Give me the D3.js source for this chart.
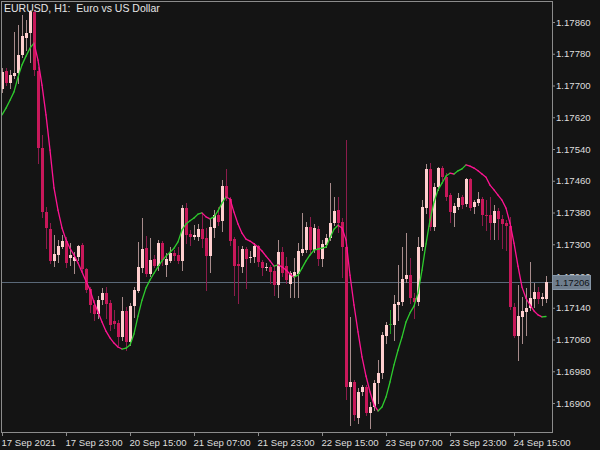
<!DOCTYPE html>
<html><head><meta charset="utf-8">
<script src="https://cdn.jsdelivr.net/npm/d3@7"></script>
<style>html,body{margin:0;padding:0;background:#141414;}svg{display:block}</style>
</head><body><svg id="c" width="600" height="450"></svg>
<script>
const chartTitle = "EURUSD, H1:  Euro vs US Dollar";
const openP = [1.17691,1.17737,1.17706,1.17724,1.17731,1.17777,1.17820,1.17832,1.17885,1.17737,
1.17542,1.17381,1.17338,1.17258,1.17273,1.17293,1.17308,1.17265,1.17258,1.17268,
1.17298,1.17238,1.17187,1.17147,1.17124,1.17159,1.17177,1.17152,1.17107,1.17101,
1.17066,1.17132,1.17054,1.17144,1.17182,1.17240,1.17290,1.17225,1.17263,1.17245,
1.17303,1.17248,1.17258,1.17278,1.17273,1.17258,1.17391,1.17326,1.17318,1.17318,
1.17338,1.17316,1.17270,1.17341,1.17374,1.17359,1.17447,1.17414,1.17313,1.17250,
1.17243,1.17288,1.17265,1.17268,1.17296,1.17255,1.17240,1.17243,1.17233,1.17197,
1.17280,1.17245,1.17200,1.17217,1.17225,1.17278,1.17285,1.17343,1.17285,1.17338,
1.17263,1.17298,1.17316,1.17353,1.17386,1.17356,1.17293,1.16940,1.16953,1.16862,
1.16928,1.16940,1.16875,1.16890,1.16950,1.16975,1.17069,1.17099,1.17096,1.17147,
1.17154,1.17212,1.17222,1.17164,1.17154,1.17293,1.17391,1.17490,1.17343,1.17444,
1.17492,1.17469,1.17424,1.17379,1.17394,1.17419,1.17401,1.17464,1.17394,1.17404,
1.17414,1.17374,1.17374,1.17353,1.17384,1.17364,1.17353,1.17346,1.17142,1.17069,
1.17117,1.17129,1.17139,1.17162,1.17180,1.17162,1.17162];
const highP = [1.17744,1.17744,1.17739,1.17835,1.17852,1.17878,1.17865,1.17890,1.17890,1.17747,
1.17575,1.17394,1.17353,1.17323,1.17311,1.17323,1.17318,1.17303,1.17280,1.17298,
1.17303,1.17240,1.17192,1.17159,1.17170,1.17190,1.17192,1.17159,1.17134,1.17109,
1.17167,1.17142,1.17152,1.17192,1.17306,1.17366,1.17321,1.17316,1.17273,1.17311,
1.17308,1.17278,1.17293,1.17285,1.17293,1.17399,1.17404,1.17336,1.17348,1.17351,
1.17379,1.17341,1.17366,1.17386,1.17394,1.17462,1.17490,1.17419,1.17318,1.17296,
1.17296,1.17293,1.17283,1.17303,1.17298,1.17260,1.17253,1.17248,1.17245,1.17311,
1.17293,1.17268,1.17233,1.17265,1.17303,1.17379,1.17356,1.17369,1.17351,1.17346,
1.17311,1.17326,1.17454,1.17419,1.17419,1.17366,1.17563,1.17117,1.16958,1.16938,
1.16945,1.16945,1.16902,1.16958,1.17008,1.17079,1.17104,1.17134,1.17172,1.17248,
1.17293,1.17328,1.17265,1.17177,1.17318,1.17411,1.17502,1.17505,1.17454,1.17495,
1.17497,1.17479,1.17429,1.17404,1.17429,1.17424,1.17467,1.17467,1.17411,1.17432,
1.17419,1.17411,1.17419,1.17399,1.17391,1.17374,1.17361,1.17369,1.17152,1.17197,
1.17167,1.17190,1.17255,1.17202,1.17192,1.17177,1.17220];
const lowP = [1.17684,1.17701,1.17694,1.17719,1.17706,1.17772,1.17789,1.17759,1.17726,1.17505,
1.17369,1.17290,1.17253,1.17245,1.17255,1.17290,1.17243,1.17248,1.17227,1.17260,
1.17233,1.17180,1.17129,1.17109,1.17114,1.17149,1.17114,1.17084,1.17089,1.17046,
1.17059,1.17033,1.17046,1.17117,1.17180,1.17230,1.17220,1.17220,1.17243,1.17235,
1.17248,1.17220,1.17255,1.17260,1.17253,1.17235,1.17303,1.17298,1.17313,1.17311,
1.17293,1.17185,1.17230,1.17318,1.17348,1.17333,1.17411,1.17298,1.17172,1.17152,
1.17230,1.17190,1.17255,1.17255,1.17245,1.17222,1.17235,1.17202,1.17172,1.17167,
1.17220,1.17202,1.17167,1.17167,1.17167,1.17273,1.17280,1.17278,1.17280,1.17248,
1.17245,1.17293,1.17311,1.17348,1.17331,1.17217,1.16910,1.16844,1.16857,1.16849,
1.16920,1.16870,1.16837,1.16882,1.16900,1.16963,1.17051,1.17076,1.17059,1.17109,
1.17147,1.17205,1.17152,1.17114,1.17147,1.17285,1.17379,1.17336,1.17336,1.17437,
1.17462,1.17411,1.17356,1.17346,1.17389,1.17391,1.17396,1.17386,1.17379,1.17399,
1.17348,1.17336,1.17313,1.17313,1.17313,1.17290,1.17285,1.17137,1.17066,1.17008,
1.17051,1.17071,1.17134,1.17142,1.17152,1.17147,1.17154];
const closeP = [1.17734,1.17706,1.17726,1.17731,1.17777,1.17825,1.17832,1.17885,1.17739,1.17542,
1.17381,1.17341,1.17258,1.17275,1.17296,1.17308,1.17253,1.17273,1.17268,1.17296,
1.17238,1.17185,1.17147,1.17124,1.17159,1.17177,1.17149,1.17096,1.17099,1.17066,
1.17132,1.17054,1.17144,1.17185,1.17243,1.17288,1.17225,1.17260,1.17245,1.17303,
1.17260,1.17263,1.17278,1.17270,1.17258,1.17391,1.17323,1.17318,1.17323,1.17338,
1.17313,1.17270,1.17343,1.17374,1.17356,1.17447,1.17419,1.17308,1.17245,1.17245,
1.17288,1.17263,1.17268,1.17296,1.17255,1.17240,1.17243,1.17230,1.17197,1.17280,
1.17227,1.17210,1.17227,1.17230,1.17283,1.17288,1.17343,1.17285,1.17341,1.17263,
1.17301,1.17316,1.17353,1.17384,1.17353,1.17293,1.16940,1.16953,1.16870,1.16928,
1.16940,1.16875,1.16890,1.16950,1.16975,1.17071,1.17096,1.17099,1.17149,1.17154,
1.17212,1.17222,1.17164,1.17154,1.17293,1.17394,1.17490,1.17343,1.17444,1.17492,
1.17469,1.17419,1.17381,1.17396,1.17416,1.17399,1.17464,1.17391,1.17406,1.17414,
1.17374,1.17371,1.17353,1.17384,1.17364,1.17351,1.17346,1.17142,1.17069,1.17119,
1.17132,1.17139,1.17164,1.17180,1.17162,1.17167,1.17206];
const maLine = [1.17626,1.17643,1.17663,1.17684,1.17721,1.17752,1.17774,1.17794,1.17807,1.17764,
1.17701,1.17626,1.17537,1.17442,1.17386,1.17341,1.17311,1.17290,1.17273,1.17253,
1.17230,1.17207,1.17185,1.17154,1.17129,1.17104,1.17081,1.17064,1.17051,1.17041,
1.17036,1.17038,1.17046,1.17074,1.17119,1.17159,1.17190,1.17210,1.17227,1.17243,
1.17258,1.17270,1.17280,1.17290,1.17306,1.17336,1.17351,1.17359,1.17366,1.17376,
1.17379,1.17369,1.17364,1.17369,1.17384,1.17404,1.17419,1.17414,1.17381,1.17351,
1.17328,1.17313,1.17308,1.17301,1.17293,1.17283,1.17270,1.17258,1.17245,1.17248,
1.17243,1.17235,1.17225,1.17217,1.17222,1.17240,1.17258,1.17273,1.17285,1.17288,
1.17290,1.17293,1.17316,1.17338,1.17348,1.17341,1.17311,1.17222,1.17147,1.17079,
1.17016,1.16968,1.16928,1.16895,1.16880,1.16890,1.16915,1.16953,1.16996,1.17033,
1.17066,1.17104,1.17127,1.17144,1.17177,1.17235,1.17301,1.17361,1.17406,1.17437,
1.17454,1.17472,1.17479,1.17477,1.17485,1.17490,1.17500,1.17497,1.17492,1.17485,
1.17477,1.17469,1.17449,1.17437,1.17424,1.17411,1.17391,1.17353,1.17303,1.17245,
1.17192,1.17164,1.17147,1.17132,1.17122,1.17117,1.17118];
const priceTicks = [1.16900,1.16980,1.17060,1.17140,1.17220,1.17300,1.17380,1.17460,1.17540,1.17620,1.17700,1.17780,1.17860];
const timeTickBars = [0,16,32,48,64,80,96,112,128];
const timeTickLabels = ["17 Sep 2021","17 Sep 23:00","20 Sep 15:00","21 Sep 07:00","21 Sep 23:00","22 Sep 15:00","23 Sep 07:00","23 Sep 23:00","24 Sep 15:00"];
const lastPrice = 1.17206;

const FONT = "'Liberation Sans', Arial, sans-serif";
const svg = d3.select("#c");
svg.append("rect").attr("width",600).attr("height",450).attr("fill","#141414");

const n = closeP.length;
const x = d3.scaleLinear().domain([0, n-1]).range([2, 2 + 4*(n-1)]);
const y = d3.scaleLinear().domain([1.16900, 1.17860]).range([403, 22]);

const plot = svg.append("g");
const yp = Math.round(y(lastPrice)) + 0.5;
plot.append("line").attr("x1",2).attr("x2",552).attr("y1",yp).attr("y2",yp)
  .attr("stroke","#5a6878").attr("stroke-width",1);

const bars = d3.range(n).map(i => ({i, o:openP[i], h:highP[i], l:lowP[i], c:closeP[i]}));
const col = d => d.c > d.o ? "bull" : (d.c < d.o ? "bear" : "doji");
const wickColor = {bull:"#a88c8c", bear:"#8c1c4c", doji:"#1f9a1f"};
const bodyColor = {bull:"#ffcfcf", bear:"#c8185a", doji:"#1f9a1f"};

plot.selectAll("line.wick").data(bars).join("line").attr("class","wick")
  .attr("x1", d => Math.round(x(d.i)) + 0.5).attr("x2", d => Math.round(x(d.i)) + 0.5)
  .attr("y1", d => Math.round(y(d.h))).attr("y2", d => Math.round(y(d.l)) + 1)
  .attr("stroke", d => wickColor[col(d)]).attr("stroke-width",1)
  .attr("shape-rendering","crispEdges");

plot.selectAll("rect.body").data(bars).join("rect").attr("class","body")
  .attr("x", d => Math.round(x(d.i)) - 1).attr("width", 3)
  .attr("y", d => Math.round(y(Math.max(d.o,d.c))))
  .attr("height", d => Math.max(1, Math.round(y(Math.min(d.o,d.c))) - Math.round(y(Math.max(d.o,d.c)))))
  .attr("fill", d => bodyColor[col(d)])
  .attr("shape-rendering","crispEdges");

const segs = d3.pairs(d3.range(n));
plot.selectAll("line.ma").data(segs).join("line").attr("class","ma")
  .attr("x1", d => x(d[0])).attr("y1", d => y(maLine[d[0]]))
  .attr("x2", d => x(d[1])).attr("y2", d => y(maLine[d[1]]))
  .attr("stroke", d => maLine[d[1]] >= maLine[d[0]] ? "#2ecc2e" : "#ff1493")
  .attr("stroke-width",1.3).attr("stroke-linecap","round");

svg.append("rect").attr("x",1.5).attr("y",1.5).attr("width",551).attr("height",431)
  .attr("fill","none").attr("stroke","#8c8c8c").attr("shape-rendering","crispEdges");

const yAxis = svg.append("g").attr("transform","translate(552,0)")
  .call(d3.axisRight(y).tickValues(priceTicks).tickFormat(d3.format(".5f")).tickSize(3).tickPadding(1));
yAxis.select(".domain").remove();
yAxis.selectAll("line").attr("stroke","#8c8c8c");
yAxis.selectAll("text").attr("fill","#dedede").attr("font-size","9.6px").attr("font-family",FONT);

const xAxis = svg.append("g").attr("transform","translate(0,432)")
  .call(d3.axisBottom(x).tickValues(timeTickBars).tickFormat((d,k) => timeTickLabels[k]).tickSize(4).tickPadding(3));
xAxis.select(".domain").remove();
xAxis.selectAll("line").attr("stroke","#8c8c8c");
xAxis.selectAll("text").attr("fill","#dedede").attr("font-size","9.6px").attr("font-family",FONT)
  .attr("text-anchor","start").attr("dx","-1");

svg.append("rect").attr("x",552.5).attr("y",yp-7).attr("width",38).attr("height",14)
  .attr("fill","#6f7e8e").attr("stroke","#8696a6").attr("shape-rendering","crispEdges");
svg.append("text").attr("x",555).attr("y",yp).attr("dy","0.35em")
  .attr("fill","#101418").attr("font-size","9.6px").attr("font-family",FONT)
  .text(d3.format(".5f")(lastPrice));

svg.append("text").attr("x",4).attr("y",12).attr("fill","#e6e6e6")
  .attr("font-size","10.5px").attr("font-family",FONT).style("white-space","pre")
  .text(chartTitle);
</script></body></html>
